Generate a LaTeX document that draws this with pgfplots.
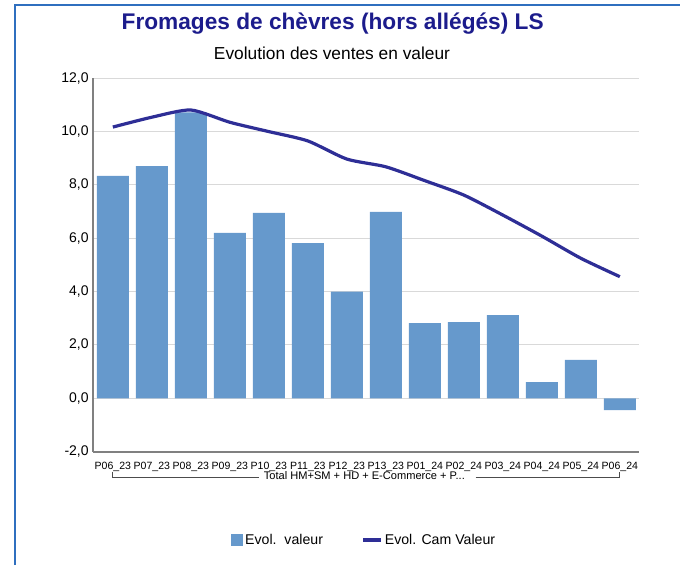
\documentclass[border=0pt]{standalone}
\usepackage{fontspec}
\setmainfont{Liberation Sans}
\usepackage{pgfplots}
\pgfplotsset{compat=1.18}

\definecolor{barblue}{HTML}{6699CC}
\definecolor{lineblue}{HTML}{2E2E96}
\definecolor{titlenavy}{HTML}{1C1C8C}
\definecolor{frameblue}{HTML}{2F6FBF}
\definecolor{gridgray}{HTML}{D9D9D9}
\definecolor{axisgray}{HTML}{808080}

\begin{document}
\begin{tikzpicture}
\useasboundingbox (0,0) rectangle (510pt,423.75pt);
% cadre
\draw[frameblue, line width=1.5pt] (11.25pt,0pt) -- (11.25pt,420pt) -- (510pt,420pt);
% titres
\node[font=\bfseries\fontsize{17}{19}\selectfont, text=titlenavy] at (249.5pt,406pt)
  {Fromages de chèvres (hors allégés) LS};
\node[font=\fontsize{13}{15}\selectfont] at (249pt,384pt) {Evolution des ventes en valeur};

\begin{axis}[
    at={(70pt,85.05pt)}, anchor=south west,
    scale only axis, width=409.5pt, height=280pt,
    xmin=-0.5, xmax=13.5, ymin=-2, ymax=12,
    ytick={-2,0,2,4,6,8,10,12},
    xtick={0,...,13},
    xticklabels={P06\_23,P07\_23,P08\_23,P09\_23,P10\_23,P11\_23,P12\_23,P13\_23,
                 P01\_24,P02\_24,P03\_24,P04\_24,P05\_24,P06\_24},
    axis x line*=bottom, axis y line*=left,
    axis line style={axisgray, line width=1.5pt, -},
    major tick length=0pt,
    ymajorgrids, grid style={gridgray, line width=0.8pt},
    yticklabel style={font=\fontsize{10.5}{12}\selectfont,
        /pgf/number format/.cd, fixed, fixed zerofill, precision=1, use comma, assume math mode=true},
    xticklabel style={font=\fontsize{7.9}{9}\selectfont, yshift=-4.5pt},
    clip=false,
    legend style={at={(0.496,-0.237)}, anchor=center, draw=none, legend columns=2,
        font=\fontsize{10.6}{12}\selectfont,
        /tikz/every even column/.append style={column sep=27pt}},
]

\addplot[ybar, bar width=24pt, fill=barblue, draw=none,
    legend image code/.code={\fill[barblue] (0pt,-4.5pt) rectangle (9pt,4.5pt);}]
coordinates {
    (0,8.34) (1,8.71) (2,10.72) (3,6.20) (4,6.95) (5,5.82) (6,4.00)
    (7,6.99) (8,2.82) (9,2.86) (10,3.12) (11,0.61) (12,1.44) (13,-0.44)
};
\addlegendentry{Evol.\ \ valeur}

\addplot[lineblue, line width=2.4pt, smooth, tension=0.4,
    legend image code/.code={\draw[lineblue, line width=2.4pt] (0pt,0pt) -- (13pt,0pt);}]
coordinates {
    (0,10.17) (1,10.54) (2,10.81) (3,10.35) (4,10.00) (5,9.65) (6,8.97)
    (7,8.68) (8,8.16) (9,7.62) (10,6.87) (11,6.08) (12,5.25) (13,4.56)
};
\addlegendentry{Evol. Cam Valeur}

% accolade du regroupement
\draw[black!70, line width=0.6pt]
    ([yshift=-15pt]axis cs:0,-2) -- ([yshift=-19.5pt]axis cs:0,-2)
    -- ([yshift=-19.5pt]axis cs:3.75,-2);
\draw[black!70, line width=0.6pt]
    ([yshift=-19.5pt]axis cs:9.3,-2) -- ([yshift=-19.5pt]axis cs:13,-2)
    -- ([yshift=-15pt]axis cs:13,-2);
\node[inner sep=0pt, font=\fontsize{8.3}{9}\selectfont]
    at ([yshift=-18pt]axis cs:6.45,-2) {Total HM+SM + HD + E-Commerce + P...};

\end{axis}
\end{tikzpicture}
\end{document}
